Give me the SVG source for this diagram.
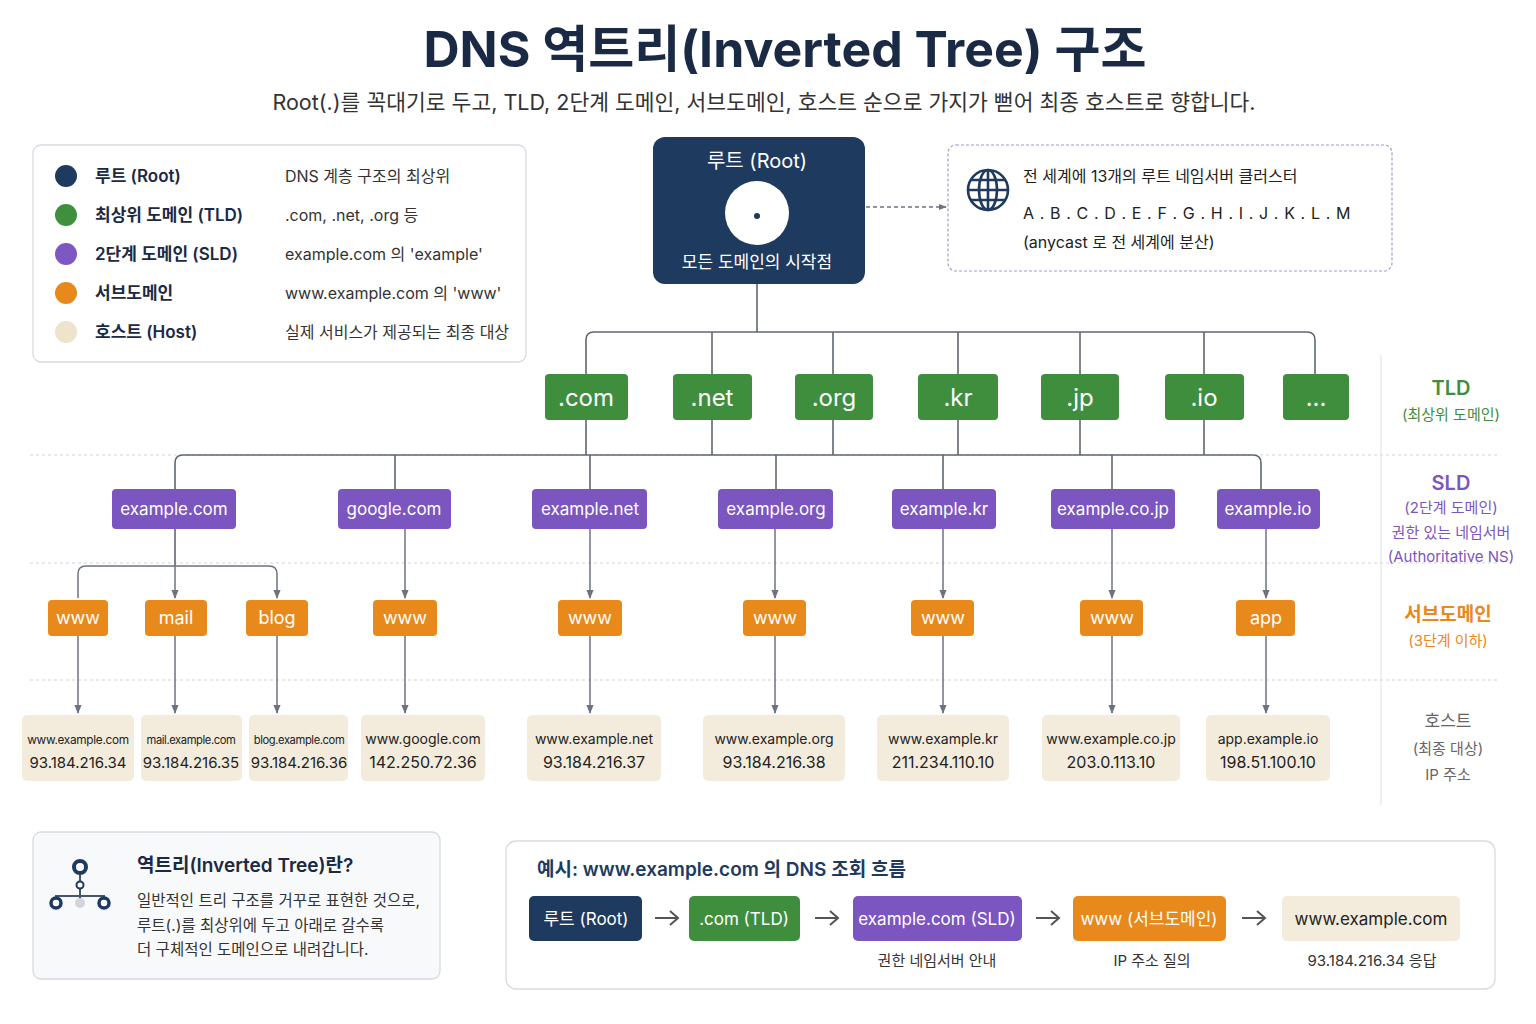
<svg xmlns="http://www.w3.org/2000/svg" width="1536" height="1024" viewBox="0 0 1536 1024">
<defs>
<marker id="ah" viewBox="0 0 10 10" refX="9" refY="5" markerWidth="6" markerHeight="6" orient="auto"><path d="M0,1 L10,5 L0,9 z" fill="#6b7280"/></marker>
<style>
text{font-family:Inter,"Noto Sans CJK KR","Noto Sans",sans-serif}
.ln{fill:none;stroke:#5f6673;stroke-width:1.6}
.ar{fill:none;stroke:#6b7280;stroke-width:1.5;marker-end:url(#ah)}
.sep{stroke:#cfd3da;stroke-width:1;stroke-dasharray:3 3}
.card{fill:#fff;stroke:#d6dae0;stroke-width:1.3}
.tld{fill:#3e8e3e}.sld{fill:#7b55c0}.sub{fill:#e8891c}.host{fill:#f3ecdc}
.wt{fill:#fff;text-anchor:middle}
.ht{fill:#222;text-anchor:middle}
.lg{font-size:17px;fill:#1b2a44;font-weight:600}
.ld{font-size:16px;fill:#333}
</style>
</defs>
<rect width="1536" height="1024" fill="#fff"/>
<text x="785" y="67" text-anchor="middle" font-size="50" font-weight="700" fill="#1b2a44">DNS 역트리(Inverted Tree) 구조</text>
<text x="764" y="110" text-anchor="middle" font-size="21.5" fill="#333">Root(.)를 꼭대기로 두고, TLD, 2단계 도메인, 서브도메인, 호스트 순으로 가지가 뻗어 최종 호스트로 향합니다.</text>

<g id="legend">
<rect x="33" y="145" width="493" height="217" rx="8" class="card"/>
<circle cx="66" cy="176" r="11" fill="#1e3a5f"/><circle cx="66" cy="215" r="11" fill="#3f8f3f"/><circle cx="66" cy="254" r="11" fill="#7e57c2"/><circle cx="66" cy="293" r="11" fill="#e8891c"/><circle cx="66" cy="332" r="11" fill="#eee3cc"/>
<text x="95" y="182" class="lg">루트 (Root)</text><text x="95" y="221" class="lg">최상위 도메인 (TLD)</text><text x="95" y="260" class="lg">2단계 도메인 (SLD)</text><text x="95" y="299" class="lg">서브도메인</text><text x="95" y="338" class="lg">호스트 (Host)</text>
<text x="285" y="182" class="ld">DNS 계층 구조의 최상위</text><text x="285" y="221" class="ld">.com, .net, .org 등</text><text x="285" y="260" class="ld">example.com 의 'example'</text><text x="285" y="299" class="ld">www.example.com 의 'www'</text><text x="285" y="338" class="ld">실제 서비스가 제공되는 최종 대상</text>
</g>

<g id="separators">
<line x1="30" y1="455" x2="1500" y2="455" class="sep"/>
<line x1="30" y1="563" x2="1500" y2="563" class="sep"/>
<line x1="30" y1="680" x2="1500" y2="680" class="sep"/>
<line x1="1381" y1="355" x2="1381" y2="805" stroke="#dde0e5" stroke-width="1"/>
</g>

<g id="connectors">
<line x1="866" y1="207" x2="946" y2="207" stroke="#6b7280" stroke-width="1.3" stroke-dasharray="4 3" marker-end="url(#ah)"/>
<line x1="757" y1="284" x2="757" y2="332" class="ln"/>
<path d="M586,374 V340 Q586,332 594,332 H1307 Q1315,332 1315,340 V374" class="ln"/>
<path d="M712,332V374M833,332V374M958,332V374M1080,332V374M1204,332V374" class="ln"/>
<path d="M586,420V455M712,420V455M833,420V455M958,420V455M1080,420V455M1204,420V455" class="ln"/>
<path d="M175,489 V463 Q175,455 183,455 H1253 Q1261,455 1261,463 V489" class="ln"/>
<path d="M395,455V489M590,455V489M776,455V489M943,455V489M1112,455V489" class="ln"/>
<line x1="175" y1="529" x2="175" y2="566" class="ln"/>
<path d="M78,598 V574 Q78,566 86,566 H269 Q277,566 277,574 V598" class="ar"/>
<line x1="175" y1="566" x2="175" y2="598" class="ar"/>
<line x1="405" y1="529" x2="405" y2="598" class="ar"/>
<line x1="590" y1="529" x2="590" y2="598" class="ar"/>
<line x1="775" y1="529" x2="775" y2="598" class="ar"/>
<line x1="943" y1="529" x2="943" y2="598" class="ar"/>
<line x1="1112" y1="529" x2="1112" y2="598" class="ar"/>
<line x1="1266" y1="529" x2="1266" y2="598" class="ar"/>
<line x1="78" y1="636" x2="78" y2="713" class="ar"/><line x1="175" y1="636" x2="175" y2="713" class="ar"/><line x1="277" y1="636" x2="277" y2="713" class="ar"/><line x1="405" y1="636" x2="405" y2="713" class="ar"/><line x1="590" y1="636" x2="590" y2="713" class="ar"/><line x1="775" y1="636" x2="775" y2="713" class="ar"/><line x1="943" y1="636" x2="943" y2="713" class="ar"/><line x1="1112" y1="636" x2="1112" y2="713" class="ar"/><line x1="1266" y1="636" x2="1266" y2="713" class="ar"/>
</g>

<g id="root">
<rect x="653" y="137" width="212" height="147" rx="12" fill="#1e3a5f"/>
<text x="757" y="168" class="wt" font-size="20">루트 (Root)</text>
<circle cx="757" cy="213" r="32" fill="#fff"/><circle cx="757" cy="216" r="3" fill="#1e3a5f"/>
<text x="757" y="268" class="wt" font-size="17">모든 도메인의 시작점</text>
</g>

<g id="info">
<rect x="948" y="145" width="444" height="126" rx="8" fill="#fff" stroke="#9aa0c8" stroke-width="1.2" stroke-dasharray="3 2"/>
<g fill="none" stroke="#1e3a5f" stroke-width="2.6"><circle cx="988" cy="190" r="20"/><ellipse cx="988" cy="190" rx="9" ry="20"/><line x1="968" y1="190" x2="1008" y2="190"/><path d="M971,180 H1005 M971,200 H1005"/><line x1="988" y1="170" x2="988" y2="210"/></g>
<text x="1023" y="182" font-size="16" fill="#222">전 세계에 13개의 루트 네임서버 클러스터</text>
<text x="1023" y="219" font-size="16" fill="#222" letter-spacing="0.6">A . B . C . D . E . F . G . H . I . J . K . L . M</text>
<text x="1023" y="248" font-size="16" fill="#222">(anycast 로 전 세계에 분산)</text>
</g>

<g id="tlds" font-size="24">
<rect x="545" y="374" width="83" height="46" rx="4" class="tld"/><text x="586" y="406" class="wt">.com</text>
<rect x="673" y="374" width="79" height="46" rx="4" class="tld"/><text x="712" y="406" class="wt">.net</text>
<rect x="795" y="374" width="78" height="46" rx="4" class="tld"/><text x="834" y="406" class="wt">.org</text>
<rect x="918" y="374" width="80" height="46" rx="4" class="tld"/><text x="958" y="406" class="wt">.kr</text>
<rect x="1041" y="374" width="78" height="46" rx="4" class="tld"/><text x="1080" y="406" class="wt">.jp</text>
<rect x="1165" y="374" width="79" height="46" rx="4" class="tld"/><text x="1204" y="406" class="wt">.io</text>
<rect x="1283" y="374" width="66" height="46" rx="4" class="tld"/><text x="1316" y="406" class="wt">...</text>
</g>

<g id="slds" font-size="17">
<rect x="112" y="489" width="124" height="40" rx="4" class="sld"/><text x="174" y="515" class="wt">example.com</text>
<rect x="338" y="489" width="113" height="40" rx="4" class="sld"/><text x="394" y="515" class="wt">google.com</text>
<rect x="532" y="489" width="115" height="40" rx="4" class="sld"/><text x="590" y="515" class="wt">example.net</text>
<rect x="718" y="489" width="115" height="40" rx="4" class="sld"/><text x="776" y="515" class="wt">example.org</text>
<rect x="892" y="489" width="104" height="40" rx="4" class="sld"/><text x="944" y="515" class="wt">example.kr</text>
<rect x="1051" y="489" width="124" height="40" rx="4" class="sld"/><text x="1113" y="515" class="wt">example.co.jp</text>
<rect x="1217" y="489" width="103" height="40" rx="4" class="sld"/><text x="1268" y="515" class="wt">example.io</text>
</g>

<g id="subs" font-size="18">
<rect x="48" y="600" width="60" height="36" rx="4" class="sub"/><text x="78" y="624" class="wt">www</text>
<rect x="145" y="600" width="62" height="36" rx="4" class="sub"/><text x="176" y="624" class="wt">mail</text>
<rect x="246" y="600" width="62" height="36" rx="4" class="sub"/><text x="277" y="624" class="wt">blog</text>
<rect x="373" y="600" width="64" height="36" rx="4" class="sub"/><text x="405" y="624" class="wt">www</text>
<rect x="558" y="600" width="64" height="36" rx="4" class="sub"/><text x="590" y="624" class="wt">www</text>
<rect x="743" y="600" width="63" height="36" rx="4" class="sub"/><text x="775" y="624" class="wt">www</text>
<rect x="911" y="600" width="63" height="36" rx="4" class="sub"/><text x="943" y="624" class="wt">www</text>
<rect x="1080" y="600" width="63" height="36" rx="4" class="sub"/><text x="1112" y="624" class="wt">www</text>
<rect x="1236" y="600" width="59" height="36" rx="4" class="sub"/><text x="1266" y="624" class="wt">app</text>
</g>

<g id="hosts">
<rect x="22" y="715" width="112" height="66" rx="5" class="host"/><text x="78" y="744" class="ht" font-size="11.8" letter-spacing="-0.3">www.example.com</text><text x="78" y="768" class="ht" font-size="15">93.184.216.34</text>
<rect x="141" y="715" width="101" height="66" rx="5" class="host"/><text x="191" y="744" class="ht" font-size="11.2" letter-spacing="-0.4">mail.example.com</text><text x="191" y="768" class="ht" font-size="15">93.184.216.35</text>
<rect x="249" y="715" width="99" height="66" rx="5" class="host"/><text x="299" y="744" class="ht" font-size="11.2" letter-spacing="-0.4">blog.example.com</text><text x="299" y="768" class="ht" font-size="15">93.184.216.36</text>
<rect x="361" y="715" width="124" height="66" rx="5" class="host"/><text x="423" y="744" class="ht" font-size="14">www.google.com</text><text x="423" y="768" class="ht" font-size="16">142.250.72.36</text>
<rect x="527" y="715" width="134" height="66" rx="5" class="host"/><text x="594" y="744" class="ht" font-size="14">www.example.net</text><text x="594" y="768" class="ht" font-size="16">93.184.216.37</text>
<rect x="703" y="715" width="142" height="66" rx="5" class="host"/><text x="774" y="744" class="ht" font-size="14">www.example.org</text><text x="774" y="768" class="ht" font-size="16">93.184.216.38</text>
<rect x="877" y="715" width="132" height="66" rx="5" class="host"/><text x="943" y="744" class="ht" font-size="14">www.example.kr</text><text x="943" y="768" class="ht" font-size="16">211.234.110.10</text>
<rect x="1042" y="715" width="138" height="66" rx="5" class="host"/><text x="1111" y="744" class="ht" font-size="14">www.example.co.jp</text><text x="1111" y="768" class="ht" font-size="16">203.0.113.10</text>
<rect x="1206" y="715" width="124" height="66" rx="5" class="host"/><text x="1268" y="744" class="ht" font-size="14">app.example.io</text><text x="1268" y="768" class="ht" font-size="16">198.51.100.10</text>
</g>

<g id="levels" text-anchor="middle">
<text x="1451" y="395" font-size="20" font-weight="600" fill="#3e8e3e">TLD</text><text x="1451" y="420" font-size="15" fill="#3e8e3e">(최상위 도메인)</text>
<text x="1451" y="490" font-size="20" font-weight="600" fill="#7b55c0">SLD</text><text x="1451" y="513" font-size="15" fill="#7b55c0">(2단계 도메인)</text><text x="1451" y="538" font-size="15" fill="#7b55c0">권한 있는 네임서버</text><text x="1451" y="562" font-size="15" fill="#7b55c0">(Authoritative NS)</text>
<text x="1448" y="621" font-size="19" font-weight="600" fill="#e8891c">서브도메인</text><text x="1448" y="646" font-size="15" fill="#e8891c">(3단계 이하)</text>
<text x="1448" y="727" font-size="17" fill="#666">호스트</text><text x="1448" y="754" font-size="15" fill="#666">(최종 대상)</text><text x="1448" y="780" font-size="15" fill="#666">IP 주소</text>
</g>

<g id="about">
<rect x="33" y="832" width="407" height="147" rx="8" fill="#f8f9fb" stroke="#d6dae0" stroke-width="1.3"/>
<path d="M80,867V885M56,903V896H104V903M80,885V903" fill="none" stroke="#4a5568" stroke-width="2"/>
<circle cx="80" cy="867" r="6" fill="#fff" stroke="#1e3a5f" stroke-width="4"/><circle cx="80" cy="885" r="3.5" fill="#fff" stroke="#1e3a5f" stroke-width="2"/>
<circle cx="56" cy="903" r="5" fill="#fff" stroke="#1e3a5f" stroke-width="3.5"/><circle cx="80" cy="903" r="5" fill="#d1d5db"/><circle cx="104" cy="903" r="5" fill="#fff" stroke="#1e3a5f" stroke-width="3.5"/>
<text x="137" y="872" font-size="19" font-weight="600" fill="#1b2a44">역트리(Inverted Tree)란?</text>
<text x="137" y="906" font-size="15.5" fill="#333">일반적인 트리 구조를 거꾸로 표현한 것으로,</text>
<text x="137" y="931" font-size="15.5" fill="#333">루트(.)를 최상위에 두고 아래로 갈수록</text>
<text x="137" y="955" font-size="15.5" fill="#333">더 구체적인 도메인으로 내려갑니다.</text>
</g>

<g id="flow">
<rect x="506" y="841" width="989" height="148" rx="10" class="card"/>
<text x="537" y="876" font-size="19" font-weight="600" fill="#1e3a5f">예시: www.example.com 의 DNS 조회 흐름</text>
<rect x="529" y="896" width="113" height="45" rx="5" fill="#1e3a5f"/><text x="586" y="925" class="wt" font-size="17">루트 (Root)</text>
<rect x="689" y="896" width="111" height="45" rx="5" class="tld"/><text x="744" y="925" class="wt" font-size="17">.com (TLD)</text>
<rect x="853" y="896" width="169" height="45" rx="5" class="sld"/><text x="937" y="925" class="wt" font-size="17">example.com (SLD)</text>
<rect x="1073" y="896" width="153" height="45" rx="5" class="sub"/><text x="1149" y="925" class="wt" font-size="17">www (서브도메인)</text>
<rect x="1282" y="896" width="178" height="45" rx="5" class="host"/><text x="1371" y="925" class="ht" font-size="17">www.example.com</text>
<g stroke="#555" stroke-width="2" fill="none"><path d="M655,918H678M670,911L678,918L670,925"/><path d="M815,918H838M830,911L838,918L830,925"/><path d="M1036,918H1059M1051,911L1059,918L1051,925"/><path d="M1242,918H1265M1257,911L1265,918L1257,925"/></g>
<text x="937" y="966" font-size="15" fill="#333" text-anchor="middle">권한 네임서버 안내</text>
<text x="1152" y="966" font-size="15" fill="#333" text-anchor="middle">IP 주소 질의</text>
<text x="1372" y="966" font-size="15" fill="#333" text-anchor="middle">93.184.216.34 응답</text>
</g>
</svg>
